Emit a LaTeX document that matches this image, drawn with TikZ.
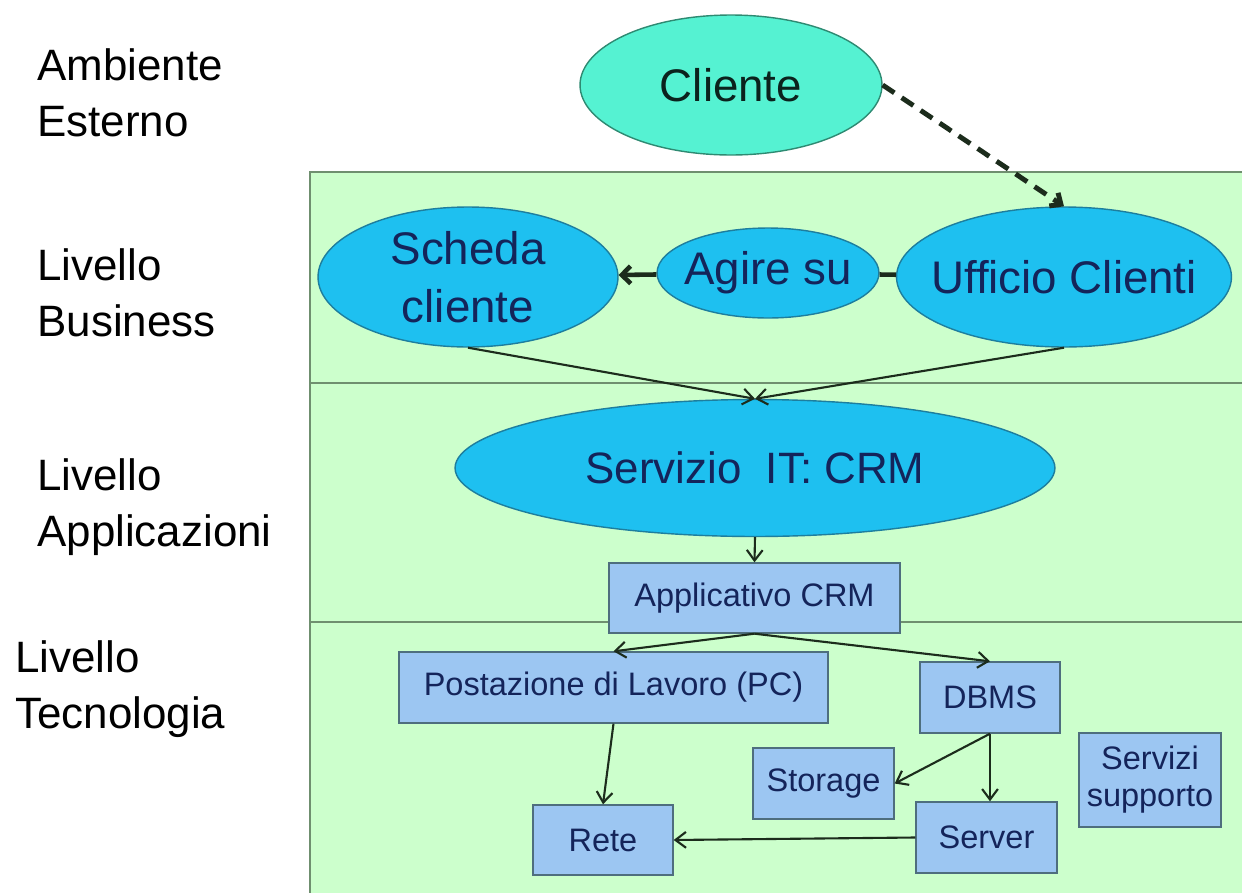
\documentclass[tikz,border=0pt]{standalone}
\usepackage{fontspec}
\setmainfont{Liberation Sans}
\usetikzlibrary{shapes.geometric,arrows.meta}
\definecolor{bggreen}{HTML}{CCFFCC}
\definecolor{frameline}{HTML}{6F8F6F}
\definecolor{ovalblue}{HTML}{1EC0F0}
\definecolor{ovalline}{HTML}{1D7E9E}
\definecolor{aqua}{HTML}{55F2D2}
\definecolor{aqualine}{HTML}{2E8A72}
\definecolor{boxblue}{HTML}{9CC6F2}
\definecolor{boxline}{HTML}{4E6E7E}
\definecolor{navytext}{HTML}{14245A}
\definecolor{linkdark}{HTML}{1C2C1C}
\tikzset{
  oval/.style={ellipse,draw=ovalline,line width=0.8pt,fill=ovalblue,text=navytext,inner sep=-6mm,
    align=center,font=\fontsize{26}{33}\selectfont},
  box/.style={rectangle,draw=boxline,line width=0.8pt,fill=boxblue,text=navytext,inner sep=0pt,
    align=center,font=\fontsize{18.5}{21}\selectfont},
  lbl/.style={anchor=north west,inner sep=0pt,align=left,font=\fontsize{25}{32}\selectfont},
  link/.style={-{Straight Barb[length=6pt,width=9pt]},line width=1.2pt,draw=linkdark},
  boldlink/.style={line width=2.6pt,draw=linkdark}
}

\begin{document}
\begin{tikzpicture}[x=0.02cm,y=-0.02cm]
\useasboundingbox (0,0) rectangle (1242,893);
\fill[bggreen] (310,172) rectangle (1242,893);
\draw[frameline,line width=1.4pt] (1242,172) -- (310,172) -- (310,893);
\foreach \y in {383,622} \draw[frameline,line width=1.4pt] (310,\y) -- (1242,\y);
\foreach \x/\y/\a/\b in {37/48/Ambiente/Esterno, 37/248/Livello/Business,
    37/458/Livello/Applicazioni, 15/640/Livello/Tecnologia}
  \node[lbl] (lv\y) at (\x,\y) {\a\\\b};
\node[oval,fill=aqua,draw=aqualine,text=black!75!aqualine,minimum width=6.04cm,minimum height=2.8cm]
  (cliente) at (731,85) {Cliente};
\node[oval,minimum width=6cm,minimum height=2.8cm] (scheda) at (468,277) {Scheda\\cliente};
\node[oval,minimum width=4.44cm,minimum height=1.8cm] (agire) at (768,273) {Agire su};
\node[oval,minimum width=6.7cm,minimum height=2.8cm] (ufficio) at (1064,277) {Ufficio Clienti};
\node[oval,minimum width=12cm,minimum height=2.74cm,font=\fontsize{25}{30}\selectfont]
  (crm) at (755,468) {Servizio\ \ IT: CRM};
\node[box,minimum width=5.82cm,minimum height=1.4cm] (app) at (754.5,598) {Applicativo CRM};
\node[box,minimum width=8.58cm,minimum height=1.42cm] (pc) at (613.5,687.5) {Postazione di Lavoro (PC)};
\node[box,minimum width=2.8cm,minimum height=1.42cm] (dbms) at (990,697.5) {DBMS};
\node[box,minimum width=2.82cm,minimum height=1.42cm] (storage) at (823.5,783.5) {Storage};
\node[box,minimum width=2.84cm,minimum height=1.88cm] (supporto) at (1150,780) {Servizi\\supporto};
\node[box,minimum width=2.8cm,minimum height=1.4cm] (rete) at (603,840) {Rete};
\node[box,minimum width=2.82cm,minimum height=1.42cm] (server) at (986.5,837.5) {Server};
\draw[link,line width=2.8pt,dash pattern=on 8pt off 5pt,-{Straight Barb[length=5pt,width=9pt]}]
  (cliente.east) -- (ufficio.north);
\draw[boldlink,-{Straight Barb[length=5pt,width=10pt]}] (agire) -- (scheda);
\draw[boldlink] (agire) -- (ufficio);
\draw[link] (scheda.south) -- (crm.north);
\draw[link] (ufficio.south) -- (crm.north);
\draw[link] (crm.south) -- (app.north);
\draw[link] (app.south) -- (pc.north);
\draw[link] (app.south) -- (dbms.north);
\draw[link] (pc.south) -- (rete.north);
\draw[link] (dbms.south) -- (storage.east);
\draw[link] (dbms.south) -- (dbms.south |- server.north);
\draw[link] (server.west) -- (rete.east);
\end{tikzpicture}
\end{document}
